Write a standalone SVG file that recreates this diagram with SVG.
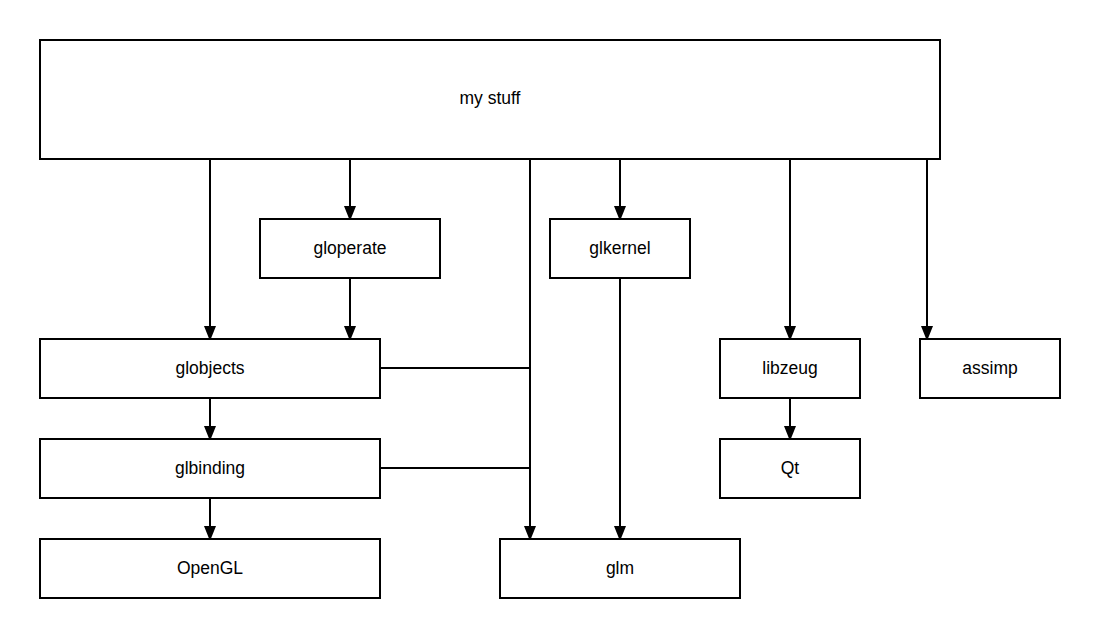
<svg xmlns="http://www.w3.org/2000/svg" width="1100" height="639" viewBox="0 0 1100 639">
<style>
.box{fill:#fff;stroke:#000;stroke-width:2}
.lbl{font-family:"Liberation Sans",Arial,sans-serif;font-size:17.5px;fill:#000;text-anchor:middle}
.c{fill:none;stroke:#000;stroke-width:2}
</style>
<defs>
<marker id="ah" markerWidth="12" markerHeight="16" refX="11" refY="6" orient="auto" markerUnits="userSpaceOnUse">
<path d="M0,0 L15,6 L0,12 Z" fill="#000"/>
</marker>
</defs>
<rect width="1100" height="639" fill="#fff"/>
<g id="connectors">
<path class="c" d="M210,160 V337" marker-end="url(#ah)"/>
<path class="c" d="M350,160 V217" marker-end="url(#ah)"/>
<path class="c" d="M530,160 V537" marker-end="url(#ah)"/>
<path class="c" d="M620,160 V217" marker-end="url(#ah)"/>
<path class="c" d="M790,160 V337" marker-end="url(#ah)"/>
<path class="c" d="M927,160 V337" marker-end="url(#ah)"/>
<path class="c" d="M350,279 V337" marker-end="url(#ah)"/>
<path class="c" d="M210,399 V437" marker-end="url(#ah)"/>
<path class="c" d="M210,499 V537" marker-end="url(#ah)"/>
<path class="c" d="M620,279 V537" marker-end="url(#ah)"/>
<path class="c" d="M790,399 V437" marker-end="url(#ah)"/>
<path class="c" d="M381,368 H530"/>
<path class="c" d="M381,468 H530"/>
</g>
<g id="mystuff"><rect class="box" x="40" y="40" width="900" height="119"/><text class="lbl" x="490" y="104">my stuff</text></g>
<g id="gloperate"><rect class="box" x="260" y="219" width="180" height="59"/><text class="lbl" x="350" y="254">gloperate</text></g>
<g id="glkernel"><rect class="box" x="550" y="219" width="140" height="59"/><text class="lbl" x="620" y="254">glkernel</text></g>
<g id="globjects"><rect class="box" x="40" y="339" width="340" height="59"/><text class="lbl" x="210" y="374">globjects</text></g>
<g id="libzeug"><rect class="box" x="720" y="339" width="140" height="59"/><text class="lbl" x="790" y="374">libzeug</text></g>
<g id="assimp"><rect class="box" x="920" y="339" width="140" height="59"/><text class="lbl" x="990" y="374">assimp</text></g>
<g id="glbinding"><rect class="box" x="40" y="439" width="340" height="59"/><text class="lbl" x="210" y="474">glbinding</text></g>
<g id="qt"><rect class="box" x="720" y="439" width="140" height="59"/><text class="lbl" x="790" y="474">Qt</text></g>
<g id="opengl"><rect class="box" x="40" y="539" width="340" height="59"/><text class="lbl" x="210" y="574">OpenGL</text></g>
<g id="glm"><rect class="box" x="500" y="539" width="240" height="59"/><text class="lbl" x="620" y="574">glm</text></g>
</svg>
